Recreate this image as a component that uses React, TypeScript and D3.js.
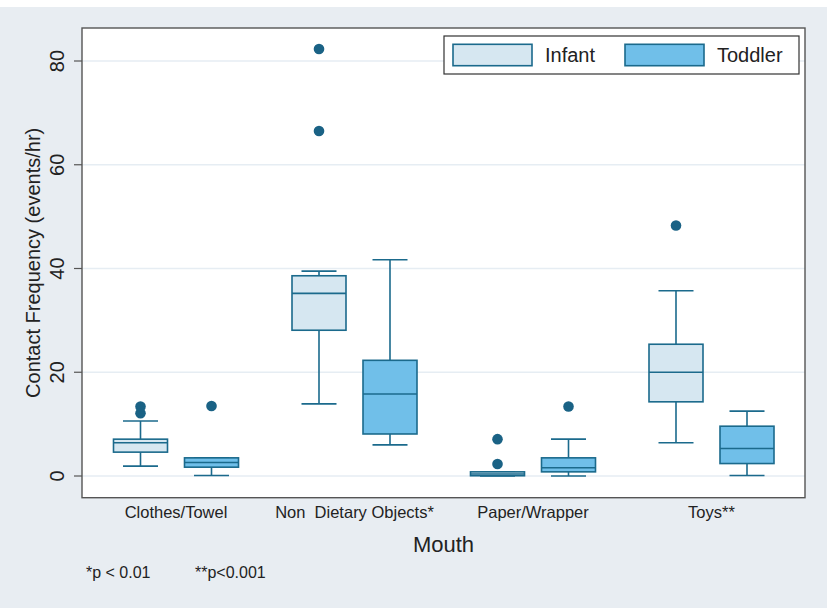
import React from "react";
import * as d3 from "d3";

const categories = ["Clothes/Towel", "Non  Dietary Objects*", "Paper/Wrapper", "Toys**"];
const series = ["Infant", "Toddler"];

// per category: [whiskerLow, q1, median, q3, whiskerHigh]
const infantStats = [
  [1.9, 4.6, 6.4, 7.1, 10.6],
  [13.9, 28.1, 35.2, 38.6, 39.5],
  [0.0, 0.05, 0.4, 0.8, 0.8],
  [6.4, 14.3, 20.0, 25.4, 35.7],
];
const toddlerStats = [
  [0.1, 1.7, 2.6, 3.5, 3.5],
  [6.0, 8.1, 15.8, 22.3, 41.7],
  [0.0, 0.8, 1.6, 3.5, 7.1],
  [0.1, 2.4, 5.3, 9.6, 12.5],
];
const infantOutliers = [[12.1, 13.4], [66.5, 82.3], [2.3, 7.1], [48.3]];
const toddlerOutliers = [[13.5], [], [13.4], []];

const yTicks = [0, 20, 40, 60, 80];
const footnotes = ["*p < 0.01", "**p<0.001"];

const W = 827, H = 608;
const plot = { left: 82, right: 805, top: 28, bottom: 497.7 };

const BG = "#e8edf2";
const STROKE = "#1b6a8c";
const FILLS = ["#d6e7f1", "#70bfe9"];
const DOT = "#1a6285";
const FONT = "'Liberation Sans', Arial, Helvetica, sans-serif";

export default function App() {
  const y = d3.scaleLinear().domain([0, 80]).range([476, 61]);
  const xg = d3.scaleBand<string>().domain(categories).range([plot.left + 4.75, plot.right - 4.25]).paddingInner(0);
  const xs = d3.scalePoint<string>().domain(series).range([-35.5, 35.5]);
  const boxW = 54;
  const capW = 35;
  const stats = [infantStats, toddlerStats];
  const outs = [infantOutliers, toddlerOutliers];

  return (
    <svg width={W} height={H} style={{ position: "absolute", left: 0, top: 0, fontFamily: FONT }}>
      <rect x={0} y={0} width={W} height={H} fill="#ffffff" />
      <rect x={0} y={7} width={W} height={H - 7} fill={BG} />
      <rect x={plot.left} y={plot.top} width={plot.right - plot.left} height={plot.bottom - plot.top} fill="#ffffff" />
      {/* gridlines */}
      {yTicks.map((t) => (
        <line key={"g" + t} x1={plot.left} x2={plot.right} y1={y(t)} y2={y(t)} stroke="#e6edf3" strokeWidth={1.5} />
      ))}
      {/* boxes */}
      {series.map((s, si) =>
        categories.map((c, ci) => {
          const cx = (xg(c) as number) + xg.bandwidth() / 2 + (xs(s) as number);
          const [lo, q1, med, q3, hi] = stats[si][ci];
          return (
            <g key={s + c}>
              <line x1={cx} x2={cx} y1={y(hi)} y2={y(q3)} stroke={STROKE} strokeWidth={1.6} />
              <line x1={cx} x2={cx} y1={y(q1)} y2={y(lo)} stroke={STROKE} strokeWidth={1.6} />
              <line x1={cx - capW / 2} x2={cx + capW / 2} y1={y(hi)} y2={y(hi)} stroke={STROKE} strokeWidth={1.6} />
              <line x1={cx - capW / 2} x2={cx + capW / 2} y1={y(lo)} y2={y(lo)} stroke={STROKE} strokeWidth={1.6} />
              <rect x={cx - boxW / 2} y={y(q3)} width={boxW} height={Math.max(y(q1) - y(q3), 1)} fill={FILLS[si]} stroke={STROKE} strokeWidth={1.6} />
              <line x1={cx - boxW / 2} x2={cx + boxW / 2} y1={y(med)} y2={y(med)} stroke={STROKE} strokeWidth={1.6} />
              {outs[si][ci].map((v, k) => (
                <circle key={k} cx={cx} cy={y(v)} r={5.3} fill={DOT} />
              ))}
            </g>
          );
        })
      )}
      <rect x={plot.left} y={plot.top} width={plot.right - plot.left} height={plot.bottom - plot.top} fill="none" stroke="#555555" strokeWidth={1.4} />
      {/* y axis */}
      {yTicks.map((t) => (
        <g key={"t" + t}>
          <line x1={plot.left - 8} x2={plot.left} y1={y(t)} y2={y(t)} stroke="#555555" strokeWidth={1.2} />
          <text transform={`translate(64,${y(t)}) rotate(-90)`} textAnchor="middle" fontSize={20} fill="#222">
            {t}
          </text>
        </g>
      ))}
      <text transform={`translate(40,${(plot.top + plot.bottom) / 2}) rotate(-90)`} textAnchor="middle" fontSize={20} fill="#222">
        Contact Frequency (events/hr)
      </text>
      {/* x labels */}
      {categories.map((c) => (
        <text key={c} x={(xg(c) as number) + xg.bandwidth() / 2} y={517.7} textAnchor="middle" fontSize={16.5} fill="#222" style={{ whiteSpace: "pre" }}>
          {c}
        </text>
      ))}
      <text x={(plot.left + plot.right) / 2} y={551.7} textAnchor="middle" fontSize={22} fill="#222">
        Mouth
      </text>
      <text x={86} y={577.7} fontSize={16} fill="#222">{footnotes[0]}</text>
      <text x={195} y={577.7} fontSize={16} fill="#222">{footnotes[1]}</text>
      {/* legend */}
      <rect x={444} y={36} width={355} height={38} fill="#ffffff" stroke="#333333" strokeWidth={1.2} />
      {series.map((s, si) => {
        const lx = si === 0 ? 453 : 625;
        return (
          <g key={"l" + s}>
            <rect x={lx} y={44.3} width={79} height={21.4} fill={FILLS[si]} stroke={STROKE} strokeWidth={1.6} />
            <text x={lx + 92} y={62} fontSize={20} fill="#222">{s}</text>
          </g>
        );
      })}
    </svg>
  );
}
